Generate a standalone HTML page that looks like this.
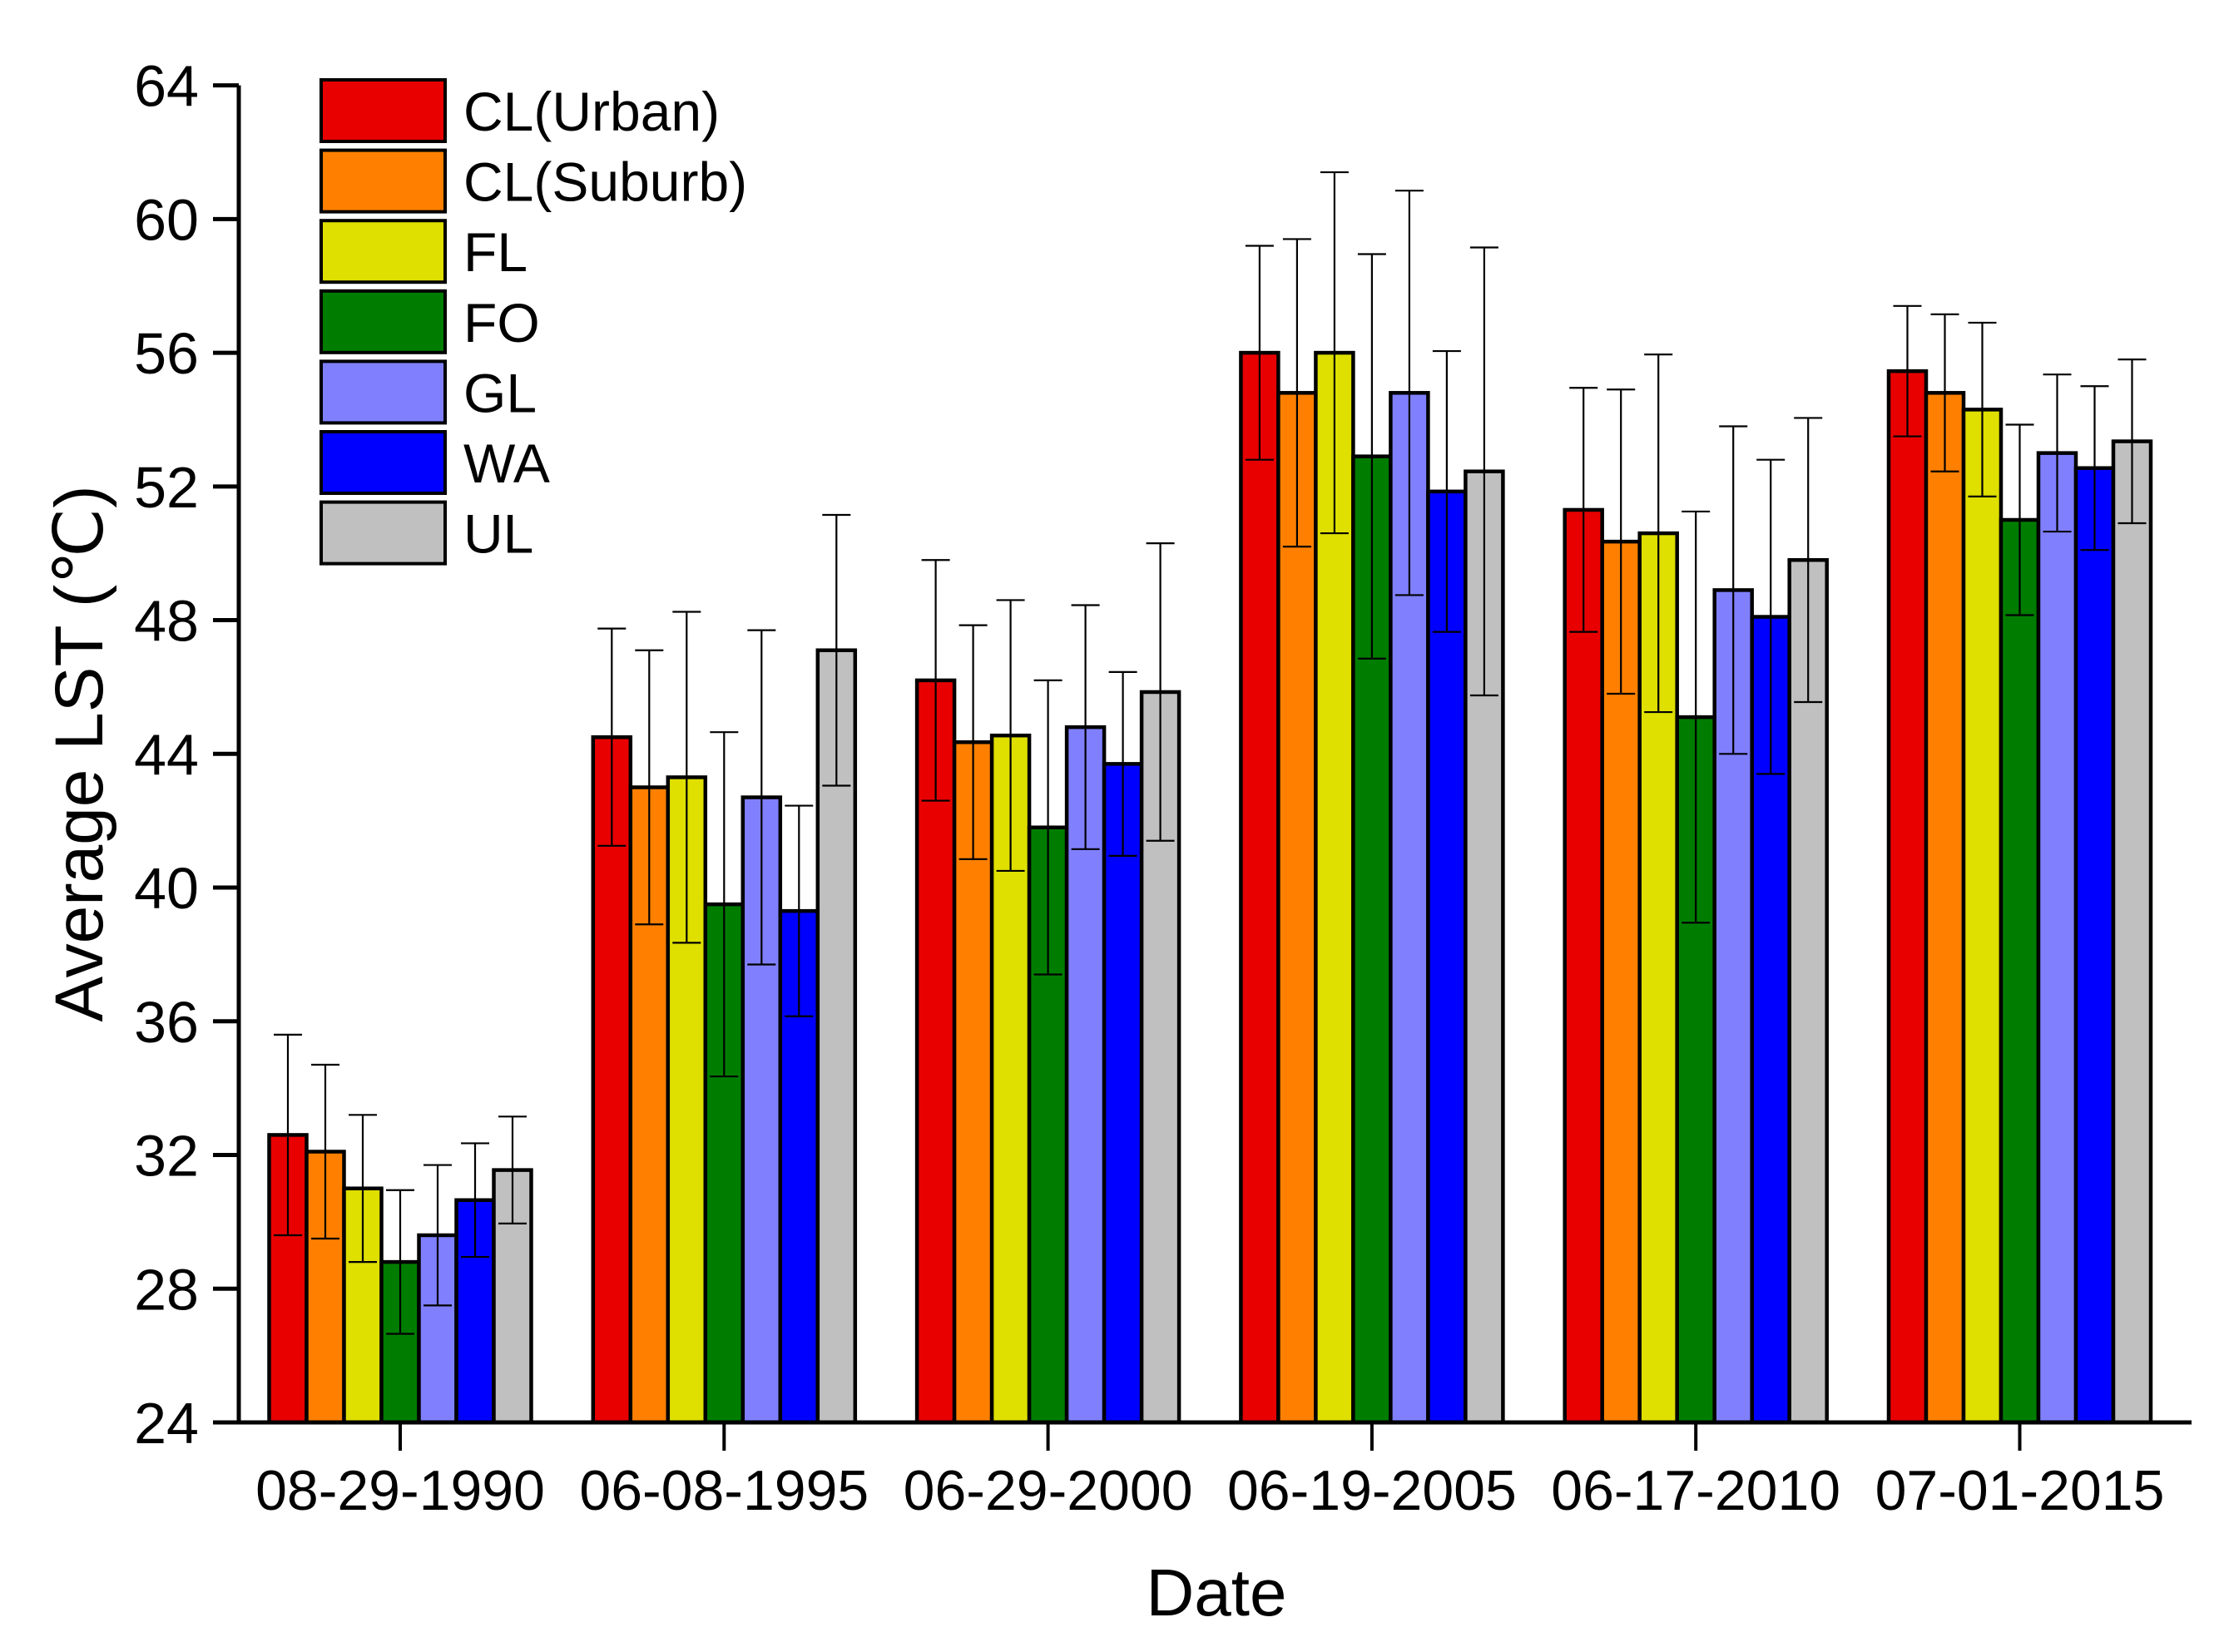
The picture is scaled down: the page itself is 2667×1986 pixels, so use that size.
<!DOCTYPE html>
<html><head><meta charset="utf-8"><style>
html,body{margin:0;padding:0;background:#fff;}
svg{display:block;font-family:"Liberation Sans",Arial,sans-serif;}
</style></head><body>
<svg id="chart" width="2667" height="1986" viewBox="0 0 2667 1986" xmlns="http://www.w3.org/2000/svg">
<g id="bars"></g>
<g id="axes"></g>
<g id="legend"></g>
<text transform="translate(123,906) rotate(-90)" text-anchor="middle" font-size="82">Average LST (℃)</text>
<text x="1462" y="1942" text-anchor="middle" font-size="80">Date</text>
</svg>
<script>
const categories = ["08-29-1990","06-08-1995","06-29-2000","06-19-2005","06-17-2010","07-01-2015"];
const seriesNames = ["CL(Urban)","CL(Suburb)","FL","FO","GL","WA","UL"];
const seriesColors = ["#e80000","#ff8000","#dfdf00","#007d00","#8080ff","#0000ff","#c0c0c0"];
const valuesCLUrban  = [32.6, 44.5, 46.2, 56.0, 51.3, 55.45];
const valuesCLSuburb = [32.1, 43.0, 44.35, 54.8, 50.35, 54.8];
const valuesFL       = [31.0, 43.3, 44.55, 56.0, 50.6, 54.3];
const valuesFO       = [28.8, 39.5, 41.8, 52.9, 45.1, 51.0];
const valuesGL       = [29.6, 42.7, 44.8, 54.8, 48.9, 53.0];
const valuesWA       = [30.65, 39.3, 43.7, 51.85, 48.1, 52.55];
const valuesUL       = [31.55, 47.1, 45.85, 52.45, 49.8, 53.35];
const errCLUrban  = [3.0, 3.25, 3.6, 3.2, 3.65, 1.95];
const errCLSuburb = [2.6, 4.1, 3.5, 4.6, 4.55, 2.35];
const errFL       = [2.2, 4.95, 4.05, 5.4, 5.35, 2.6];
const errFO       = [2.15, 5.15, 4.4, 6.05, 6.15, 2.85];
const errGL       = [2.1, 5.0, 3.65, 6.05, 4.9, 2.35];
const errWA       = [1.7, 3.15, 2.75, 4.2, 4.7, 2.45];
const errUL       = [1.6, 4.05, 4.45, 6.7, 4.25, 2.45];
const yTicks = [24,28,32,36,40,44,48,52,56,60,64];

const values = [valuesCLUrban,valuesCLSuburb,valuesFL,valuesFO,valuesGL,valuesWA,valuesUL];
const errs = [errCLUrban,errCLSuburb,errFL,errFO,errGL,errWA,errUL];
const NS = "http://www.w3.org/2000/svg";
const yMin=24,yMax=64,yTop=102.6,yBot=1710;
function yScale(v){return yBot-(v-yMin)/(yMax-yMin)*(yBot-yTop);}
const x0=481, groupStep=389.3, barW=45;
function xCenter(i){return x0+i*groupStep;}
function mk(tag,attrs,parent){const e=document.createElementNS(NS,tag);for(const k in attrs)e.setAttribute(k,attrs[k]);parent.appendChild(e);return e;}
const gB=document.getElementById('bars'), gA=document.getElementById('axes'), gL=document.getElementById('legend');

categories.forEach((c,i)=>{
  seriesNames.forEach((s,j)=>{
    const v=values[j][i], e=errs[j][i];
    const bx=xCenter(i)+(j-3.5)*barW;
    const r=mk('rect',{x:bx,y:yScale(v),width:barW,height:yBot-yScale(v),fill:seriesColors[j],stroke:'#000','stroke-width':4.5},gB);
    
    
    const cx=bx+barW/2, g=mk('g',{stroke:'#000','stroke-width':2.2},gB);
    
    
    mk('line',{x1:cx,x2:cx,y1:yScale(v+e),y2:yScale(v-e)},g);
    mk('line',{x1:cx-17,x2:cx+17,y1:yScale(v+e),y2:yScale(v+e)},g);
    mk('line',{x1:cx-17,x2:cx+17,y1:yScale(v-e),y2:yScale(v-e)},g);
  });
  const t=mk('line',{x1:xCenter(i),x2:xCenter(i),y1:yBot,y2:yBot+34,stroke:'#000','stroke-width':4},gA);
  
  
  const l=mk('text',{x:xCenter(i),y:1815,'text-anchor':'middle','font-size':68},gA);
  l.textContent=c;
  
  
});
yTicks.forEach(v=>{
  const t=mk('line',{x1:256,x2:287,y1:yScale(v),y2:yScale(v),stroke:'#000','stroke-width':5},gA);
  
  
  const l=mk('text',{x:239,y:yScale(v)+25,'text-anchor':'end','font-size':70},gA);
  l.textContent=v;
  
  
});
const ya=mk('line',{x1:287,x2:287,y1:yTop,y2:yBot+2,stroke:'#000','stroke-width':5},gA);


const xa=mk('line',{x1:256,x2:2634,y1:yBot,y2:yBot,stroke:'#000','stroke-width':5},gA);



seriesNames.forEach((s,j)=>{
  const top=96+j*84.6;
  const g=mk('g',{},gL);
  
  
  mk('rect',{x:386,y:top,width:149,height:74,fill:seriesColors[j],stroke:'#000','stroke-width':4},g);
  const t=mk('text',{x:557,y:top+61,'font-size':66},g);
  t.textContent=s;
});
</script>
</body></html>
